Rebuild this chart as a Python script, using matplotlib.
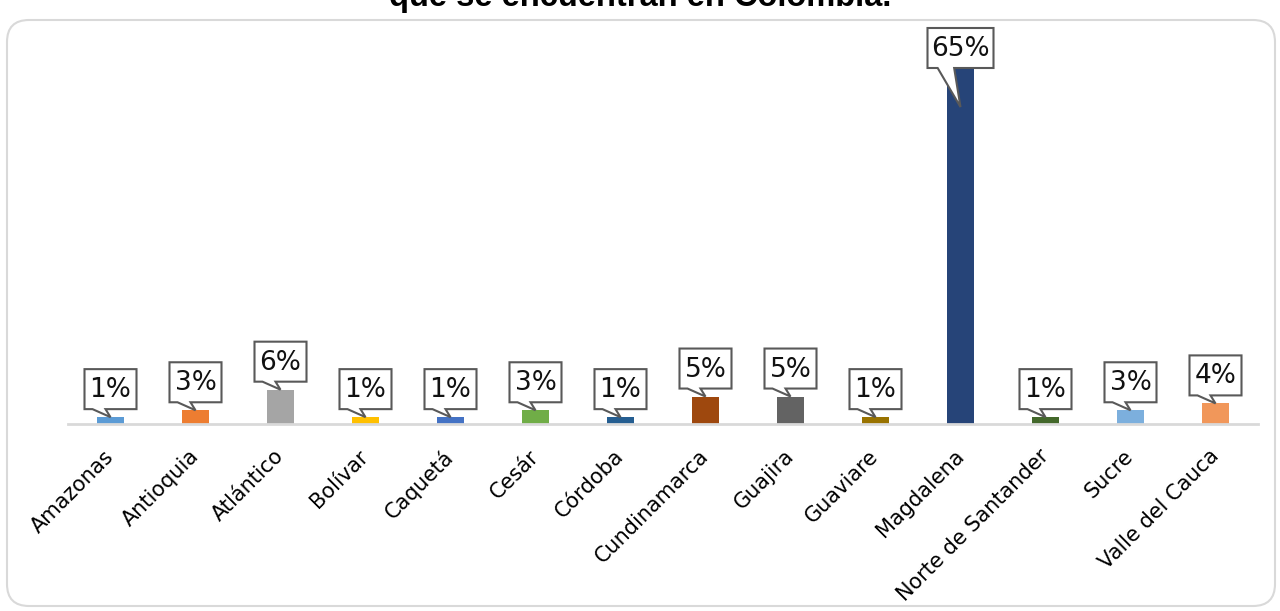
import matplotlib
matplotlib.use("Agg")
import matplotlib.pyplot as plt
from matplotlib.patches import Polygon, FancyBboxPatch
from matplotlib.transforms import Affine2D, ScaledTranslation

# ---- data ----
departamentos = ["Amazonas", "Antioquia", "Atlántico", "Bolívar", "Caquetá", "Cesár",
                 "Córdoba", "Cundinamarca", "Guajira", "Guaviare", "Magdalena",
                 "Norte de Santander", "Sucre", "Valle del Cauca"]
porcentajes = [1.25, 2.5, 6.25, 1.25, 1.25, 2.5, 1.25, 5.0, 5.0, 1.25, 65.0, 1.25, 2.5, 3.75]
etiquetas = ["1%", "3%", "6%", "1%", "1%", "3%", "1%", "5%", "5%", "1%", "65%", "1%", "3%", "4%"]
colores = ["#5B9BD5", "#ED7D31", "#A5A5A5", "#FFC000", "#4472C4", "#70AD47", "#255E91",
           "#9E480E", "#636363", "#997300", "#264478", "#43682B", "#7CAFDD", "#F1975A"]
titulo = "que se encuentran en Colombia."

W, H = 1280, 611
fig = plt.figure(figsize=(W / 100, H / 100), dpi=100)
fig.patch.set_facecolor("white")

# rounded chart border
border = FancyBboxPatch((7, 5), 1268, 586, boxstyle="round,pad=0,rounding_size=22",
                        linewidth=1.5, edgecolor="#d9d9d9", facecolor="none")
border.set_transform(None)
fig.add_artist(border)

fig.text(0.5, 1 - 6 / H, titulo, ha="center", va="baseline", fontsize=23.5,
         fontweight="bold", family="Liberation Sans", color="black")

ax_left, ax_right = 68, 1258
ax_top, ax_bot = 28, 424
ax = fig.add_axes([ax_left / W, (H - ax_bot) / H, (ax_right - ax_left) / W, (ax_bot - ax_top) / H])
ax.set_facecolor("none")

x = list(range(len(departamentos)))
ax.bar(x, porcentajes, width=0.32, color=colores, zorder=2)
ymax = 65 * (ax_bot - ax_top) / (ax_bot - 67)
ax.set_ylim(0, ymax)
ax.set_xlim(-0.5, len(departamentos) - 0.5)

for s in ["top", "right", "left"]:
    ax.spines[s].set_visible(False)
ax.spines["bottom"].set_color("#d9d9d9")
ax.spines["bottom"].set_linewidth(2)
ax.set_yticks([])
ax.set_xticks(x)
ax.set_xticklabels(departamentos, rotation=45, ha="right", va="center",
                   rotation_mode="anchor", fontsize=15, family="DejaVu Sans", color="black")
ax.tick_params(axis="x", length=0, pad=21)

# callouts (offsets in pixels relative to bar top)
axes_h_px = ax_bot - ax_top
for i, (v, lab) in enumerate(zip(porcentajes, etiquetas)):
    bw = 24 + 14 * len(lab)
    L, R = -bw / 2, bw / 2
    B, T = 8, 48
    tip = 0
    bar_px = v / ymax * axes_h_px
    if bar_px + T > axes_h_px:
        shift = bar_px + T - axes_h_px
        B -= shift
        T -= shift
        tip = B - 39
    verts = [(L, B), (-18 * bw / 52, B), (0, tip), (-5 * bw / 52, B), (R, B), (R, T), (L, T)]
    trans = Affine2D() + ScaledTranslation(i, v, ax.transData)
    poly = Polygon(verts, closed=True, transform=trans, facecolor="white",
                   edgecolor="#595959", linewidth=1.5, zorder=4, clip_on=False)
    ax.add_patch(poly)
    ax.annotate(lab, xy=(i, v), xytext=(0, (B + T) / 2 - 1), textcoords="offset pixels",
                ha="center", va="center", fontsize=19, color="#111111", zorder=5,
                annotation_clip=False)

fig.savefig("out.png", dpi=100)
